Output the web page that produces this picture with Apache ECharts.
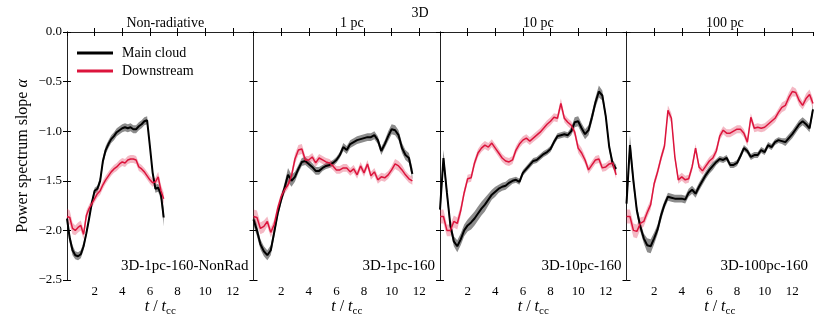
<!DOCTYPE html>
<html>
<head>
<meta charset="utf-8">
<script src="https://cdn.jsdelivr.net/npm/echarts@6/dist/echarts.min.js"></script>
<style>
  html, body { margin: 0; padding: 0; background: #fff; }
  #chart { width: 830px; height: 326px; }
</style>
</head>
<body>
<div id="chart"></div>
<script>
// panel titles and run names
const panelTitles = ['Non-radiative', '1 pc', '10 pc', '100 pc']
const runNames = ['3D-1pc-160-NonRad', '3D-1pc-160', '3D-10pc-160', '3D-100pc-160']
const yTicks = [-2.5, -2.0, -1.5, -1.0, -0.5, 0.0]

// time grid of the non-radiative run
const t1 = [0, 0.2, 0.4, 0.6, 0.8, 1.0, 1.2, 1.4, 1.6, 1.8, 2.0, 2.2,
  2.4, 2.6, 2.8, 3.0, 3.2, 3.4, 3.6, 3.8, 4.0, 4.2, 4.4, 4.6,
  4.8, 5.0, 5.2, 5.4, 5.6, 5.8, 6.0, 6.2, 6.4, 6.6, 6.8, 7.0]
// time grid of the radiative runs (each run uses the first part)
const tGrid = [0, 0.25, 0.5, 0.75, 1, 1.25, 1.5, 1.75, 2, 2.25, 2.5, 2.75,
  3, 3.25, 3.5, 3.75, 4, 4.25, 4.5, 4.75, 5, 5.25, 5.5, 5.75,
  6, 6.25, 6.5, 6.75, 7, 7.25, 7.5, 7.75, 8, 8.25, 8.5, 8.75,
  9, 9.25, 9.5, 9.75, 10, 10.25, 10.5, 10.75, 11, 11.25, 11.5, 11.75,
  12, 12.25, 12.5, 12.75, 13, 13.25, 13.5]

// Non-radiative
const main1 = [-1.88, -2.08, -2.2, -2.25, -2.26, -2.24, -2.16, -2.03, -1.88, -1.72, -1.6, -1.58,
  -1.5, -1.3, -1.19, -1.13, -1.08, -1.05, -1.01, -0.99, -0.97, -0.96, -0.97, -0.96,
  -0.98, -0.98, -0.95, -0.93, -0.9, -0.89, -1.15, -1.42, -1.58, -1.57, -1.64, -1.87]
const mainErr1 = [0.05, 0.05, 0.05, 0.04, 0.04, 0.04, 0.04, 0.03, 0.03, 0.03, 0.03, 0.03,
  0.04, 0.04, 0.04, 0.04, 0.04, 0.04, 0.04, 0.04, 0.04, 0.04, 0.04, 0.04,
  0.04, 0.04, 0.04, 0.04, 0.04, 0.04, 0.03, 0.03, 0.04, 0.04, 0.05, 0.09]
const down1 = [-1.86, -1.87, -1.98, -2.0, -1.97, -1.95, -2.04, -1.85, -1.78, -1.73, -1.68, -1.63,
  -1.6, -1.54, -1.49, -1.45, -1.41, -1.38, -1.36, -1.33, -1.31, -1.32, -1.29, -1.28,
  -1.28, -1.29, -1.36, -1.38, -1.41, -1.45, -1.49, -1.52, -1.51, -1.46, -1.6, -1.68]
const downErr1 = [0.08, 0.07, 0.06, 0.05, 0.05, 0.05, 0.05, 0.05, 0.04, 0.04, 0.04, 0.04,
  0.04, 0.04, 0.04, 0.04, 0.04, 0.04, 0.04, 0.04, 0.04, 0.04, 0.04, 0.04,
  0.04, 0.04, 0.04, 0.04, 0.04, 0.04, 0.04, 0.04, 0.04, 0.05, 0.06, 0.06]

// 1 pc
const main2 = [-1.89, -2.0, -2.14, -2.21, -2.25, -2.2, -2.02, -1.83, -1.69, -1.57, -1.44, -1.5,
  -1.46, -1.38, -1.31, -1.3, -1.33, -1.36, -1.4, -1.4, -1.37, -1.35, -1.34, -1.32,
  -1.29, -1.24, -1.16, -1.19, -1.13, -1.11, -1.09, -1.08, -1.07, -1.06, -1.06, -1.04,
  -1.09, -1.2, -1.13, -1.05, -0.98, -0.99, -1.04, -1.17, -1.24, -1.27, -1.43]
const mainErr2 = [0.06, 0.06, 0.05, 0.05, 0.05, 0.05, 0.05, 0.04, 0.04, 0.05, 0.07, 0.06,
  0.05, 0.04, 0.04, 0.04, 0.04, 0.04, 0.04, 0.04, 0.03, 0.03, 0.03, 0.03,
  0.03, 0.03, 0.04, 0.04, 0.04, 0.04, 0.04, 0.04, 0.04, 0.04, 0.04, 0.04,
  0.04, 0.04, 0.04, 0.05, 0.05, 0.05, 0.05, 0.05, 0.05, 0.05, 0.06]
const down2 = [-1.86, -1.87, -1.98, -1.96, -1.91, -2.02, -1.94, -1.78, -1.66, -1.59, -1.54, -1.45,
  -1.28, -1.19, -1.18, -1.29, -1.29, -1.26, -1.32, -1.27, -1.29, -1.31, -1.32, -1.35,
  -1.39, -1.39, -1.37, -1.37, -1.41, -1.38, -1.44, -1.35, -1.42, -1.33, -1.45, -1.41,
  -1.49, -1.46, -1.47, -1.44, -1.39, -1.33, -1.35, -1.39, -1.44, -1.48, -1.5]
const downErr2 = [0.07, 0.07, 0.06, 0.06, 0.05, 0.05, 0.05, 0.04, 0.04, 0.04, 0.04, 0.04,
  0.05, 0.05, 0.05, 0.04, 0.04, 0.04, 0.04, 0.04, 0.04, 0.04, 0.04, 0.04,
  0.04, 0.04, 0.04, 0.04, 0.04, 0.04, 0.04, 0.04, 0.04, 0.04, 0.04, 0.04,
  0.04, 0.04, 0.04, 0.04, 0.04, 0.05, 0.05, 0.05, 0.04, 0.04, 0.04]

// 10 pc
const main3 = [-1.79, -1.27, -1.62, -1.95, -2.11, -2.16, -2.09, -2.0, -1.95, -1.92, -1.88, -1.83,
  -1.78, -1.74, -1.69, -1.64, -1.61, -1.58, -1.56, -1.55, -1.52, -1.5, -1.49, -1.51,
  -1.42, -1.38, -1.34, -1.3, -1.29, -1.26, -1.23, -1.21, -1.18, -1.11, -1.05, -1.04,
  -1.03, -1.04, -1.0, -0.91, -0.9, -0.97, -1.03, -0.99, -0.86, -0.71, -0.6, -0.64,
  -0.85, -1.16, -1.33, -1.38]
const mainErr3 = [0.1, 0.08, 0.06, 0.05, 0.05, 0.06, 0.06, 0.06, 0.06, 0.07, 0.07, 0.07,
  0.07, 0.07, 0.06, 0.05, 0.05, 0.04, 0.04, 0.04, 0.04, 0.03, 0.03, 0.03,
  0.03, 0.03, 0.03, 0.03, 0.03, 0.03, 0.03, 0.03, 0.03, 0.03, 0.03, 0.03,
  0.03, 0.03, 0.04, 0.05, 0.05, 0.05, 0.05, 0.05, 0.05, 0.05, 0.06, 0.05,
  0.04, 0.04, 0.04, 0.04]
const down3 = [-1.86, -1.86, -2.0, -2.0, -1.91, -1.93, -1.8, -1.62, -1.48, -1.47, -1.32, -1.22,
  -1.17, -1.14, -1.16, -1.12, -1.17, -1.22, -1.27, -1.3, -1.31, -1.29, -1.19, -1.13,
  -1.09, -1.07, -1.1, -1.07, -1.04, -1.01, -0.97, -0.93, -0.9, -0.86, -0.87, -0.72,
  -0.87, -0.91, -0.94, -1.01, -1.17, -1.22, -1.29, -1.39, -1.34, -1.29, -1.28, -1.37,
  -1.36, -1.33, -1.32, -1.44]
const downErr3 = [0.07, 0.07, 0.06, 0.06, 0.06, 0.06, 0.05, 0.04, 0.04, 0.04, 0.04, 0.04,
  0.04, 0.04, 0.04, 0.04, 0.04, 0.04, 0.04, 0.04, 0.04, 0.04, 0.04, 0.04,
  0.04, 0.04, 0.04, 0.04, 0.04, 0.04, 0.04, 0.04, 0.04, 0.04, 0.04, 0.05,
  0.04, 0.04, 0.04, 0.04, 0.05, 0.05, 0.04, 0.04, 0.04, 0.04, 0.04, 0.04,
  0.04, 0.04, 0.04, 0.04]

// 100 pc
const main4 = [-1.73, -1.14, -1.5, -1.8, -1.96, -2.08, -2.15, -2.16, -2.08, -1.99, -1.85, -1.74,
  -1.66, -1.67, -1.68, -1.68, -1.68, -1.69, -1.62, -1.59, -1.63, -1.56, -1.5, -1.44,
  -1.39, -1.35, -1.31, -1.28, -1.29, -1.27, -1.34, -1.34, -1.32, -1.25, -1.17, -1.2,
  -1.26, -1.24, -1.24, -1.19, -1.21, -1.14, -1.16, -1.11, -1.09, -1.1, -1.11, -1.07,
  -1.03, -0.98, -0.93, -0.9, -0.93, -0.97, -0.78]
const mainErr4 = [0.1, 0.1, 0.07, 0.05, 0.05, 0.05, 0.07, 0.07, 0.06, 0.05, 0.05, 0.04,
  0.04, 0.04, 0.04, 0.04, 0.04, 0.04, 0.04, 0.04, 0.04, 0.04, 0.04, 0.04,
  0.04, 0.04, 0.03, 0.03, 0.03, 0.03, 0.03, 0.03, 0.03, 0.03, 0.03, 0.03,
  0.03, 0.03, 0.03, 0.03, 0.03, 0.03, 0.03, 0.03, 0.03, 0.03, 0.04, 0.04,
  0.04, 0.04, 0.04, 0.04, 0.04, 0.04, 0.05]
const down4 = [-1.86, -1.86, -2.0, -2.01, -1.93, -1.91, -1.82, -1.74, -1.53, -1.41, -1.27, -1.15,
  -0.79, -0.87, -1.26, -1.49, -1.46, -1.49, -1.48, -1.36, -1.17, -1.36, -1.4, -1.35,
  -1.3, -1.27, -1.2, -1.05, -0.99, -1.02, -1.02, -1.0, -0.98, -0.98, -1.02, -1.11,
  -0.86, -0.97, -0.96, -0.97, -0.96, -0.93, -0.9, -0.87, -0.81, -0.76, -0.74, -0.66,
  -0.6, -0.61, -0.69, -0.74, -0.67, -0.63, -0.72]
const downErr4 = [0.07, 0.07, 0.07, 0.07, 0.06, 0.05, 0.05, 0.05, 0.04, 0.04, 0.04, 0.04,
  0.05, 0.05, 0.04, 0.04, 0.04, 0.04, 0.04, 0.04, 0.04, 0.04, 0.04, 0.04,
  0.04, 0.04, 0.04, 0.04, 0.04, 0.04, 0.04, 0.04, 0.04, 0.04, 0.04, 0.04,
  0.04, 0.04, 0.04, 0.04, 0.04, 0.04, 0.04, 0.04, 0.04, 0.05, 0.05, 0.05,
  0.05, 0.04, 0.05, 0.04, 0.05, 0.05, 0.05]

const FONT = "'Liberation Serif', 'DejaVu Serif', serif"
const BLACK = '#000000'
const RED = '#dc143c'
const GRAY_BAND = 'rgba(0, 0, 0, 0.45)'
const PINK_BAND = 'rgba(220, 20, 60, 0.3)'

const panels = [
  { t: t1, main: main1, mainErr: mainErr1, down: down1, downErr: downErr1 },
  { t: tGrid, main: main2, mainErr: mainErr2, down: down2, downErr: downErr2 },
  { t: tGrid, main: main3, mainErr: mainErr3, down: down3, downErr: downErr3 },
  { t: tGrid, main: main4, mainErr: mainErr4, down: down4, downErr: downErr4 }
]

const gridLeft = [67, 253.5, 440, 626.5]
const gridWidth = 186.5

const grids = []
const xAxes = []
const yAxes = []
const series = []
const titles = [{
  text: '3D', left: 415, top: 1, textAlign: 'center',
  textStyle: { fontFamily: FONT, fontSize: 14, fontWeight: 'normal', color: '#000' }
}]
const graphics = []

const tickStyle = { show: true, inside: true, length: 4, lineStyle: { color: '#000', width: 1 } }
const frameLine = { show: true, lineStyle: { color: '#222', width: 1 } }

// 误差带: 一个多边形, 坐标由坐标轴换算
function bandRender(params, api) {
  if (params.dataIndex !== 0) return
  const n = params.context.rows
  const upper = []
  const lower = []
  for (let k = 0; k < n.length; k++) {
    upper.push(api.coord([n[k][0], n[k][2]]))
    lower.unshift(api.coord([n[k][0], n[k][1]]))
  }
  return {
    type: 'polygon',
    shape: { points: upper.concat(lower) },
    style: { fill: params.context.fill }
  }
}

function addCurve(gi, t, v, err, color, band, name, lineWidth) {
  const rows = v.map((y, i) => [t[i], y - err[i], y + err[i]])
  series.push({
    type: 'custom', xAxisIndex: gi * 2, yAxisIndex: gi * 2,
    data: rows, silent: true, z: 1, clip: true,
    encode: { x: 0, y: [1, 2] },
    renderItem: (params, api) => {
      params.context.rows = rows
      params.context.fill = band
      return bandRender(params, api)
    }
  })
  series.push({
    name: name, type: 'line', xAxisIndex: gi * 2, yAxisIndex: gi * 2,
    data: v.map((y, i) => [t[i], y]),
    showSymbol: false, z: 3,
    itemStyle: { color: color },
    lineStyle: { color: color, width: lineWidth }
  })
}

panels.forEach((p, i) => {
  grids.push({ left: gridLeft[i], top: 32, width: gridWidth, height: 248 })
  xAxes.push({
    type: 'value', gridIndex: i, min: 0, max: 13.5, interval: 2, position: 'bottom',
    axisLine: frameLine, axisTick: tickStyle, splitLine: { show: false },
    axisLabel: {
      showMinLabel: false, showMaxLabel: false, margin: 5,
      fontFamily: FONT, fontSize: 13, color: '#000'
    },
    name: '{i|t} / {i|t}{s|cc}', nameLocation: 'middle', nameGap: 17,
    nameMoveOverlap: false,
    nameTextStyle: {
      fontFamily: FONT, fontSize: 16, color: '#000',
      rich: {
        i: { fontFamily: FONT, fontSize: 16, fontStyle: 'italic', color: '#000' },
        s: { fontFamily: FONT, fontSize: 11, color: '#000', padding: [9, 0, 0, 0] }
      }
    }
  })
  xAxes.push({
    type: 'value', gridIndex: i, min: 0, max: 13.5, interval: 2, position: 'top',
    axisLine: frameLine, axisTick: tickStyle, splitLine: { show: false },
    axisLabel: { show: false }
  })
  yAxes.push({
    type: 'value', gridIndex: i, min: yTicks[0], max: yTicks[yTicks.length - 1], interval: 0.5,
    position: 'left', axisLine: frameLine, axisTick: tickStyle, splitLine: { show: false },
    axisLabel: {
      show: i === 0, margin: 5, fontFamily: FONT, fontSize: 13, color: '#000',
      formatter: (v) => (v < 0 ? '\u2212' : '') + Math.abs(v).toFixed(1)
    },
    name: i === 0 ? '{n|Power spectrum slope }{i|\u03b1}' : '',
    nameLocation: 'middle', nameGap: 36,
    nameTextStyle: {
      rich: {
        n: { fontFamily: FONT, fontSize: 16, color: '#000' },
        i: { fontFamily: FONT, fontSize: 16, fontStyle: 'italic', color: '#000' }
      }
    }
  })
  yAxes.push({
    type: 'value', gridIndex: i, min: yTicks[0], max: yTicks[yTicks.length - 1], interval: 0.5,
    position: 'right', axisLine: frameLine, axisTick: tickStyle, splitLine: { show: false },
    axisLabel: { show: false }
  })

  titles.push({
    text: panelTitles[i], left: gridLeft[i] + gridWidth / 2, top: 11, textAlign: 'center',
    textStyle: { fontFamily: FONT, fontSize: 14, fontWeight: 'normal', color: '#000' }
  })
  graphics.push({
    type: 'text', right: 830 - (gridLeft[i] + gridWidth) + 5, top: 259, z: 10,
    style: { text: runNames[i], font: '15px ' + FONT, fill: '#000' }
  })

  addCurve(i, p.t, p.main, p.mainErr, BLACK, GRAY_BAND, 'Main cloud', 2)
  addCurve(i, p.t, p.down, p.downErr, RED, PINK_BAND, 'Downstream', 1.5)
})

const chart = echarts.init(document.getElementById('chart'))
chart.setOption({
  animation: false,
  backgroundColor: '#fff',
  title: titles,
  grid: grids,
  xAxis: xAxes,
  yAxis: yAxes,
  legend: {
    data: ['Main cloud', 'Downstream'],
    left: 77, top: 46, orient: 'vertical', itemGap: 4, padding: 0,
    itemWidth: 36, itemHeight: 3, icon: 'rect',
    textStyle: { fontFamily: FONT, fontSize: 14, color: '#000', padding: [0, 0, 0, 4] }
  },
  graphic: graphics,
  series: series
})
</script>
</body>
</html>
